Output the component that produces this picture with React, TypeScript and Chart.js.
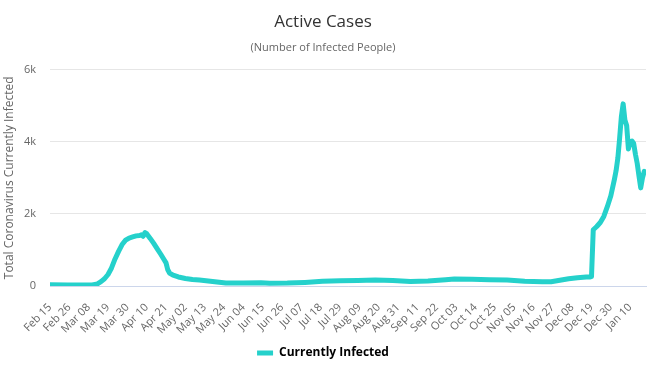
import React, { useEffect, useRef } from "react";
import { Chart, registerables } from "chart.js";

Chart.register(...registerables);

// Day offsets from Feb 15 (day 0) and active-case values
const days = [
  0, 10, 20, 24, 27, 29, 31, 33, 35, 37, 39, 41, 43, 45, 47, 49, 51, 52, 53, 54,
  55, 57, 59, 61, 63, 65, 66, 67, 68, 70, 73, 77, 81, 85, 90, 95, 100, 110, 120,
  125, 135, 145, 155, 165, 175, 185, 195, 205, 215, 225, 230, 240, 250, 260, 270,
  280, 285, 290, 295, 300, 305, 307, 308, 309, 311, 313, 315, 317, 319, 321, 322,
  323, 324, 325, 326, 327, 328, 329, 330, 331, 332, 333, 334, 335, 336, 337, 338,
];
const activeCases = [
  35, 30, 25, 30, 60, 120, 200, 320, 500, 750, 960, 1150, 1270, 1330, 1360, 1390,
  1400, 1420, 1380, 1480, 1450, 1320, 1180, 1030, 880, 720, 640, 450, 360, 300,
  250, 210, 180, 165, 140, 110, 85, 80, 90, 75, 80, 100, 130, 145, 155, 165, 150,
  125, 140, 175, 195, 185, 175, 165, 130, 115, 120, 160, 200, 230, 250, 250, 260,
  1560, 1650, 1760, 1930, 2200, 2500, 2950, 3200, 3550, 4100, 4700, 5050, 4600,
  4450, 3800, 4000, 4020, 3950, 3650, 3400, 3050, 2720, 3000, 3180,
];

const tickDays = [
  0, 11, 22, 33, 44, 55, 66, 77, 88, 99, 110, 121, 132, 143, 154, 165, 176, 187,
  198, 209, 220, 231, 242, 253, 264, 275, 286, 297, 308, 319, 330,
];
const tickLabels = [
  "Feb 15", "Feb 26", "Mar 08", "Mar 19", "Mar 30", "Apr 10", "Apr 21", "May 02",
  "May 13", "May 24", "Jun 04", "Jun 15", "Jun 26", "Jul 07", "Jul 18", "Jul 29",
  "Aug 09", "Aug 20", "Aug 31", "Sep 11", "Sep 22", "Oct 03", "Oct 14", "Oct 25",
  "Nov 05", "Nov 16", "Nov 27", "Dec 08", "Dec 19", "Dec 30", "Jan 10",
];
const yTicks = [0, 2000, 4000, 6000];

const LINE_COLOR = "#25d1cb";
const FONT = "'Open Sans', sans-serif";

export default function App() {
  const ref = useRef<HTMLCanvasElement | null>(null);

  useEffect(() => {
    if (!ref.current) return;
    const chart = new Chart(ref.current, {
      type: "line",
      data: {
        datasets: [
          {
            label: "Currently Infected",
            data: days.map((d, i) => ({ x: d, y: activeCases[i] })),
            borderColor: LINE_COLOR,
            backgroundColor: LINE_COLOR,
            borderWidth: 5,
            pointRadius: 0,
            tension: 0,
            borderJoinStyle: "round",
            borderCapStyle: "round",
          },
        ],
      },
      options: {
        responsive: false,
        animation: false,
        layout: { padding: { left: 0, right: 9, top: 0, bottom: 0 } },
        plugins: {
          title: {
            display: true,
            text: "Active Cases",
            color: "#333333",
            font: { family: FONT, size: 17, weight: "normal" },
            padding: { top: 12, bottom: 9 },
          },
          subtitle: {
            display: true,
            text: "(Number of Infected People)",
            color: "#666666",
            font: { family: FONT, size: 11, weight: "normal" },
            padding: { top: 0, bottom: 15 },
          },
          legend: {
            position: "bottom",
            labels: {
              color: "#333333",
              font: { family: FONT, size: 12, weight: "bold" },
              boxWidth: 16,
              boxHeight: 5,
              generateLabels: () => [
                {
                  text: "Currently Infected",
                  fillStyle: LINE_COLOR,
                  strokeStyle: LINE_COLOR,
                  lineWidth: 0,
                  datasetIndex: 0,
                  hidden: false,
                },
              ],
            },
          },
          tooltip: { enabled: false },
        },
        scales: {
          x: {
            type: "linear",
            min: 0,
            max: 339,
            grid: { display: false },
            border: { display: true, color: "#ccd6eb", width: 1 },
            afterBuildTicks: (scale: any) => {
              scale.ticks = tickDays.map((v) => ({ value: v }));
            },
            afterFit: (scale: any) => {
              scale.height = 51;
            },
            ticks: {
              autoSkip: false,
              minRotation: 45,
              maxRotation: 45,
              color: "#666666",
              font: { family: FONT, size: 11 },
              padding: 7,
              callback: (_v: any, i: number) => tickLabels[i],
            },
          },
          y: {
            min: 0,
            max: 6000,
            afterBuildTicks: (scale: any) => {
              scale.ticks = yTicks.map((v) => ({ value: v }));
            },
            afterFit: (scale: any) => {
              scale.width = 50;
            },
            grid: { color: "#e6e6e6", drawTicks: false },
            border: { display: false },
            ticks: {
              color: "#666666",
              font: { family: FONT, size: 11 },
              padding: 14,
              callback: (v: any) => (v === 0 ? "0" : v / 1000 + "k"),
            },
            title: {
              display: true,
              text: "Total Coronavirus Currently Infected",
              color: "#666666",
              font: { family: FONT, size: 12 },
              padding: { top: 2, bottom: 0 },
            },
          },
        },
      },
    });
    return () => chart.destroy();
  }, []);

  return (
    <div style={{ position: "fixed", left: 0, top: 0, width: 655, height: 369, background: "#fff" }}>
      <canvas ref={ref} width={655} height={369} />
    </div>
  );
}
